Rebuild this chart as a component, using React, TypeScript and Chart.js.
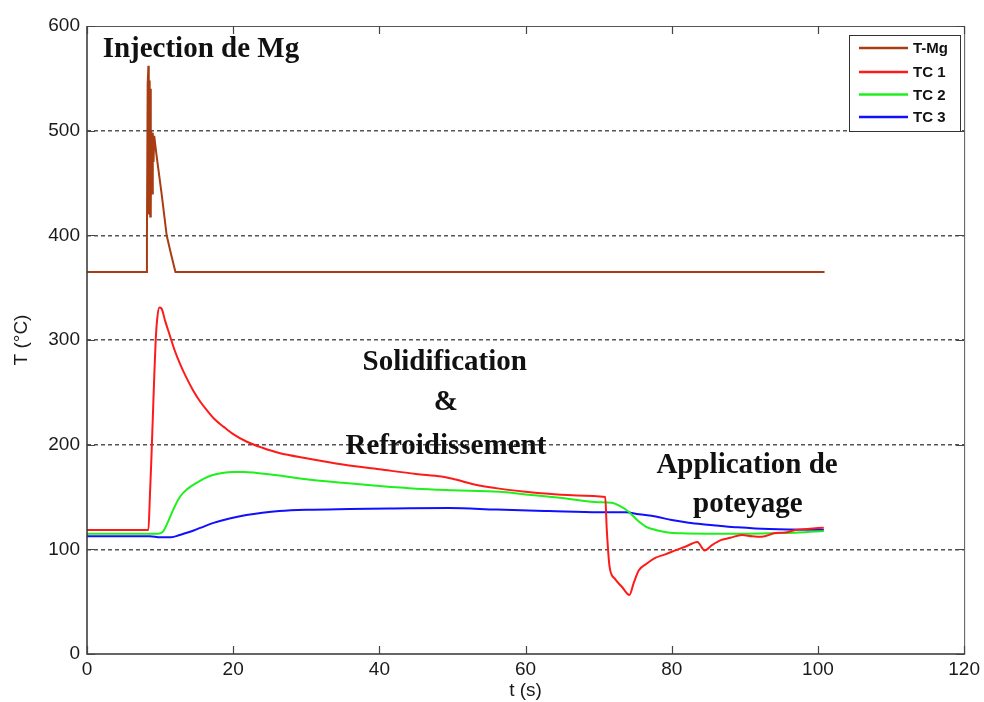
import React, { useEffect, useRef } from "react";
import { Chart, registerables } from "chart.js";

Chart.register(...registerables);

// ---- data ----
const tMgTime = [0, 8.1, 8.2, 8.3, 8.4, 8.45, 8.5, 8.55, 8.6, 8.65, 8.7, 8.75, 8.8, 8.9, 9.0, 9.1, 9.2, 9.5, 10.2, 10.9, 11.5, 12.1, 100.9];
const tMgTemp = [365, 365, 400, 545, 562, 420, 548, 430, 500, 418, 540, 425, 500, 440, 498, 470, 495, 477, 440, 400, 382, 365, 365];

const tc1Time = [0, 8.4, 8.6, 8.8, 9.0, 9.2, 9.4, 9.6, 9.9, 10.2, 10.7, 11.3, 12.0, 12.8, 13.6, 14.5, 15.5, 16.5, 17.5, 18.7, 20, 21.8, 24, 26.3, 30, 35, 40, 45, 48.5, 50, 53, 56.4, 60, 63.2, 67, 70.9, 71.1, 71.5, 72.2, 73.2, 74.2, 74.8, 75.5, 76.5, 77.8, 79, 80.5, 82, 83.5, 84.5, 85.5, 86.8, 88, 89.6, 91, 92.3, 94.2, 95.5, 96.9, 98.5, 100.8];
const tc1Temp = [118.5, 118.5, 150, 185, 225, 265, 300, 320, 331, 330, 318, 305, 290, 276, 264, 252, 241, 232, 224, 217, 210, 203, 197, 192, 187, 181, 176.5, 172, 169.5, 167.5, 162, 158, 155, 153, 151.5, 150, 120, 83, 72, 64, 56.4, 68, 80, 86, 92, 95, 99, 103, 107, 99, 104, 109, 111, 113.7, 112.5, 112, 115.5, 116, 118.5, 119.5, 120.7];

const tc2Time = [0, 9.7, 10.4, 11.0, 11.8, 12.7, 13.8, 15, 16, 17.2, 18.5, 19.9, 21.5, 23.2, 26.3, 30, 35, 40, 45, 50, 56.4, 60, 65, 70, 71.8, 73, 74.1, 75.5, 76.5, 77.8, 79.5, 81.4, 85, 90, 95, 97.3, 100.8];
const tc2Temp = [115, 115, 117, 125, 138, 150, 158, 163.5, 167.5, 171, 173, 174, 174, 173, 170.5, 167, 163.5, 160.5, 158, 156.5, 155, 152.5, 149, 145, 144.6, 141, 136, 126.5, 121.5, 118.5, 116, 115.3, 115, 115, 115.5, 116, 117.5];

const tc3Time = [0, 8.6, 10, 11.5, 12.7, 14, 15.5, 17.2, 19.5, 21.8, 24, 26.3, 30, 35.9, 42, 49.6, 56, 63.2, 70, 73.7, 75.5, 77.8, 80, 82.3, 84.5, 86.8, 89, 91.4, 96, 100.8];
const tc3Temp = [112.5, 112.5, 111.5, 111.5, 113.7, 116.5, 120.5, 125, 129.5, 132.8, 135, 136.6, 137.8, 138.5, 139, 139.5, 138, 136.6, 135.4, 135.4, 133.5, 131.3, 128, 125.5, 123.8, 122.3, 121, 120, 119, 118.5];

const seriesLabels = ["T-Mg", "TC 1", "TC 2", "TC 3"];
const xTicks = [0, 20, 40, 60, 80, 100, 120];
const yTicks = [0, 100, 200, 300, 400, 500, 600];
const xTitle = "t (s)";
const yTitle = "T (°C)";

// annotations: text, anchor t, anchor T (baseline), alignment
const annotationTexts = ["Injection de Mg", "Solidification", "&", "Refroidissement", "Application de", "poteyage"];
const annotationT = [2.14, 48.94, 49.1, 49.1, 90.3, 90.4];
const annotationY = [570.6, 271.3, 233, 191, 173, 135.7];
const annotationAlign = ["left", "center", "center", "center", "center", "center"];

const pts = (xs: number[], ys: number[]) => xs.map((x, i) => ({ x, y: ys[i] }));

const overlayPlugin = {
  id: "overlay",
  afterDraw(chart: any) {
    const ctx = chart.ctx;
    const { left, right, top, bottom } = chart.chartArea;
    const xs = chart.scales.x;
    const ys = chart.scales.y;
    ctx.save();
    // frame
    ctx.setLineDash([]);
    ctx.strokeStyle = "#555";
    ctx.lineWidth = 1;
    ctx.beginPath();
    ctx.moveTo(left, top + 0.5);
    ctx.lineTo(right + 0.5, top + 0.5);
    ctx.lineTo(right + 0.5, bottom);
    ctx.stroke();
    ctx.strokeStyle = "#333";
    ctx.lineWidth = 1.5;
    ctx.beginPath();
    ctx.moveTo(left, top);
    ctx.lineTo(left, bottom);
    ctx.lineTo(right + 1, bottom);
    ctx.stroke();
    // inward ticks
    ctx.lineWidth = 1.2;
    ctx.strokeStyle = "#444";
    const tl = 8;
    xTicks.forEach((v) => {
      const px = Math.round(xs.getPixelForValue(v)) + 0.5;
      ctx.beginPath();
      ctx.moveTo(px, bottom);
      ctx.lineTo(px, bottom - tl);
      ctx.moveTo(px, top);
      ctx.lineTo(px, top + tl);
      ctx.stroke();
    });
    yTicks.forEach((v) => {
      const py = Math.round(ys.getPixelForValue(v)) + 0.5;
      ctx.beginPath();
      ctx.moveTo(left, py);
      ctx.lineTo(left + tl, py);
      ctx.moveTo(right, py);
      ctx.lineTo(right - tl, py);
      ctx.stroke();
    });
    // annotations
    ctx.fillStyle = "#111";
    ctx.font = "bold 29px 'Liberation Serif', 'Times New Roman', serif";
    ctx.textBaseline = "alphabetic";
    annotationTexts.forEach((txt, i) => {
      ctx.textAlign = annotationAlign[i];
      ctx.fillText(txt, xs.getPixelForValue(annotationT[i]), ys.getPixelForValue(annotationY[i]));
    });
    // legend box
    const bx = 849.5, by = 35.5, bw = 111, bh = 96;
    ctx.fillStyle = "#fff";
    ctx.fillRect(bx, by, bw, bh);
    ctx.strokeStyle = "#333";
    ctx.lineWidth = 1;
    ctx.strokeRect(bx, by, bw, bh);
    const rowY = [48, 72, 94.5, 117];
    ctx.font = "bold 15px 'Liberation Sans', Arial, sans-serif";
    ctx.textAlign = "left";
    ctx.textBaseline = "middle";
    chart.data.datasets.forEach((ds: any, i: number) => {
      ctx.strokeStyle = ds.borderColor;
      ctx.lineWidth = 2.5;
      ctx.beginPath();
      ctx.moveTo(859, rowY[i]);
      ctx.lineTo(908, rowY[i]);
      ctx.stroke();
      ctx.fillStyle = "#111";
      ctx.fillText(ds.label, 913, rowY[i] + 1);
    });
    ctx.restore();
  },
};

export default function App() {
  const ref = useRef<HTMLCanvasElement | null>(null);
  useEffect(() => {
    if (!ref.current) return;
    const tickFont = { family: "'Liberation Sans', Arial, sans-serif", size: 19 };
    const chart = new Chart(ref.current, {
      type: "line",
      data: {
        datasets: [
          { label: seriesLabels[0], data: pts(tMgTime, tMgTemp), borderColor: "#a83c12", borderWidth: 2, pointRadius: 0, tension: 0 },
          { label: seriesLabels[1], data: pts(tc1Time, tc1Temp), borderColor: "#ff1a1a", borderWidth: 2, pointRadius: 0, cubicInterpolationMode: "monotone" },
          { label: seriesLabels[2], data: pts(tc2Time, tc2Temp), borderColor: "#1ef01e", borderWidth: 2, pointRadius: 0, cubicInterpolationMode: "monotone" },
          { label: seriesLabels[3], data: pts(tc3Time, tc3Temp), borderColor: "#1010ff", borderWidth: 2, pointRadius: 0, cubicInterpolationMode: "monotone" },
        ],
      },
      options: {
        animation: false,
        responsive: false,
        devicePixelRatio: 1,
        layout: { padding: { left: 0, top: 26, right: 18, bottom: 0 } },
        plugins: { legend: { display: false }, tooltip: { enabled: false } },
        scales: {
          x: {
            type: "linear",
            min: 0,
            max: 120,
            afterBuildTicks: (s: any) => { s.ticks = xTicks.map((v) => ({ value: v })); },
            afterFit: (s: any) => { s.height = 48; },
            grid: { display: false, drawTicks: false },
            border: { display: false },
            ticks: { font: tickFont, color: "#1a1a1a", padding: 4, maxRotation: 0 },
            title: { display: true, text: xTitle, font: tickFont, color: "#1a1a1a", padding: { top: 0, bottom: 0 } },
          },
          y: {
            type: "linear",
            min: 0,
            max: 600,
            afterBuildTicks: (s: any) => { s.ticks = yTicks.map((v) => ({ value: v })); },
            afterFit: (s: any) => { s.width = 87; },
            grid: {
              drawTicks: false,
              color: (c: any) => (c.tick && (c.tick.value === 0 || c.tick.value === 600) ? "rgba(0,0,0,0)" : "#555"),
              lineWidth: 1.5,
            },
            border: { display: false, dash: [4, 3] },
            ticks: { font: tickFont, color: "#1a1a1a", padding: 7 },
            title: { display: true, text: yTitle, font: tickFont, color: "#1a1a1a", padding: { top: 10, bottom: 0 } },
          },
        },
      },
      plugins: [overlayPlugin],
    } as any);
    return () => chart.destroy();
  }, []);
  return (
    <div style={{ position: "absolute", left: 0, top: 0, width: 984, height: 702, background: "#fff" }}>
      <canvas ref={ref} width={984} height={702} style={{ display: "block" }} />
    </div>
  );
}
